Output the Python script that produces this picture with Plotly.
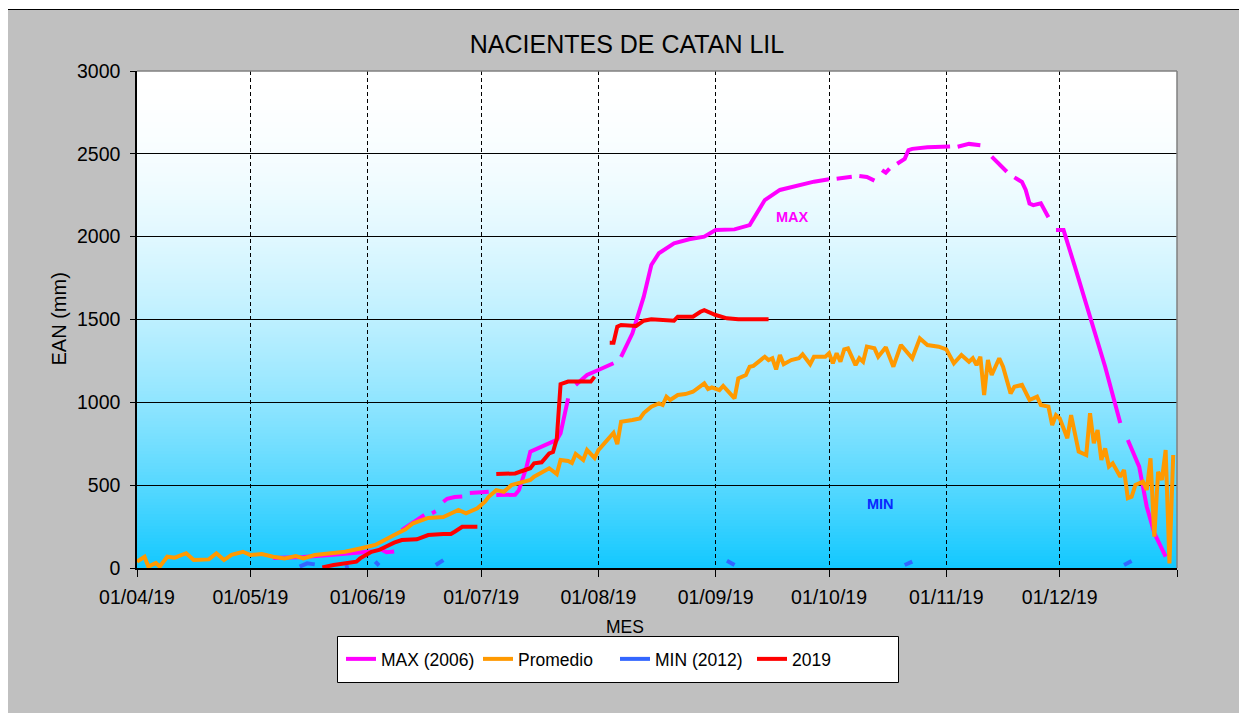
import plotly.graph_objects as go

# ---------------- data ----------------
months = ["2019-04-01", "2019-05-01", "2019-06-01", "2019-07-01", "2019-08-01",
          "2019-09-01", "2019-10-01", "2019-11-01", "2019-12-01", "2020-01-01"]
month_labels = ["01/04/19", "01/05/19", "01/06/19", "01/07/19", "01/08/19",
                "01/09/19", "01/10/19", "01/11/19", "01/12/19", ""]
y_ticks = [0, 500, 1000, 1500, 2000, 2500, 3000]

# MAX (2006) - gaps (None) where the record is missing
max_dates = ["2019-05-07", "2019-05-15", "2019-05-22", "2019-05-28", "2019-06-02", "2019-06-03",
             "2019-06-04", "2019-06-06", "2019-06-08", "2019-06-09",
             "2019-06-10", "2019-06-12", "2019-06-14", "2019-06-16", "2019-06-17",
             "2019-06-18", "2019-06-19", "2019-06-20",
             "2019-06-21", "2019-06-22", "2019-06-24", "2019-06-26", "2019-06-27",
             "2019-06-28", "2019-07-01", "2019-07-03", "2019-07-04",
             "2019-07-05", "2019-07-10", "2019-07-11", "2019-07-13", "2019-07-14", "2019-07-17",
             "2019-07-19", "2019-07-21", "2019-07-22", "2019-07-24", "2019-07-25",
             "2019-07-26", "2019-07-29", "2019-08-01", "2019-08-03", "2019-08-05", "2019-08-06",
             "2019-08-07", "2019-08-10", "2019-08-13", "2019-08-15", "2019-08-17", "2019-08-21",
             "2019-08-25", "2019-08-29", "2019-09-01", "2019-09-06", "2019-09-10", "2019-09-14",
             "2019-09-18", "2019-09-22", "2019-09-27", "2019-10-01", "2019-10-02",
             "2019-10-03", "2019-10-07", "2019-10-08",
             "2019-10-09", "2019-10-11", "2019-10-13", "2019-10-14",
             "2019-10-15", "2019-10-16", "2019-10-17", "2019-10-18",
             "2019-10-19", "2019-10-21", "2019-10-22", "2019-10-23", "2019-10-27", "2019-11-02",
             "2019-11-03",
             "2019-11-04", "2019-11-07", "2019-11-10", "2019-11-11",
             "2019-11-13", "2019-11-15", "2019-11-17", "2019-11-18",
             "2019-11-19", "2019-11-21", "2019-11-22", "2019-11-23", "2019-11-24", "2019-11-26",
             "2019-11-28", "2019-11-29",
             "2019-11-30", "2019-12-02", "2019-12-05", "2019-12-09", "2019-12-13", "2019-12-17",
             "2019-12-18",
             "2019-12-19", "2019-12-22", "2019-12-24", "2019-12-26", "2019-12-29"]
max_vals = [60, 66, 78, 88, 100, None,
            118, 95, 100, None,
            229, 260, 290, 320, None,
            330, 342, None,
            400, 418, 428, 432, None,
            452, 458, 460, None,
            440, 442, 470, 611, 702, 732,
            756, 773, 813, 1024, None,
            1105, 1165, 1195, 1215, 1236, None,
            1275, 1417, 1638, 1829, 1900, 1960,
            1984, 2000, 2040, 2044, 2070, 2221,
            2282, 2306, 2332, 2346, None,
            2350, 2362, None,
            2366, 2360, 2338, None,
            2402, 2386, 2410, None,
            2440, 2470, 2523, 2530, 2539, 2545,
            None,
            2543, 2560, 2552, None,
            2483, 2440, 2392, None,
            2358, 2330, 2282, 2200, 2190, 2201,
            2117, None,
            2040, 2040, 1819, 1517, 1215, 875,
            None,
            773, 612, 370, 211, 68]

# Promedio
prom_dates = ["2019-04-01", "2019-04-03", "2019-04-04", "2019-04-06", "2019-04-07", "2019-04-09",
              "2019-04-11", "2019-04-14", "2019-04-16", "2019-04-20", "2019-04-22", "2019-04-24",
              "2019-04-26", "2019-04-29", "2019-05-01", "2019-05-04", "2019-05-07", "2019-05-10",
              "2019-05-13", "2019-05-15", "2019-05-18", "2019-05-22", "2019-05-26", "2019-05-30",
              "2019-06-03", "2019-06-08", "2019-06-11", "2019-06-13", "2019-06-17", "2019-06-21",
              "2019-06-23", "2019-06-25", "2019-06-27", "2019-06-30", "2019-07-02", "2019-07-03",
              "2019-07-05", "2019-07-07", "2019-07-09", "2019-07-14", "2019-07-15", "2019-07-19",
              "2019-07-21", "2019-07-22", "2019-07-24", "2019-07-25", "2019-07-26", "2019-07-28",
              "2019-07-29", "2019-07-31", "2019-08-01", "2019-08-05", "2019-08-06", "2019-08-07",
              "2019-08-10", "2019-08-12", "2019-08-13", "2019-08-15", "2019-08-17", "2019-08-18",
              "2019-08-19", "2019-08-20", "2019-08-22", "2019-08-24", "2019-08-26", "2019-08-29",
              "2019-08-30", "2019-08-31", "2019-09-02", "2019-09-03", "2019-09-06", "2019-09-07",
              "2019-09-09", "2019-09-10", "2019-09-11", "2019-09-14", "2019-09-15", "2019-09-16",
              "2019-09-17", "2019-09-18", "2019-09-19", "2019-09-21", "2019-09-23", "2019-09-24",
              "2019-09-26", "2019-09-27", "2019-09-30", "2019-10-01", "2019-10-02", "2019-10-03",
              "2019-10-04", "2019-10-05", "2019-10-06", "2019-10-08", "2019-10-09", "2019-10-10",
              "2019-10-11", "2019-10-13", "2019-10-14", "2019-10-16", "2019-10-18", "2019-10-20",
              "2019-10-23", "2019-10-25", "2019-10-27", "2019-10-30", "2019-11-01", "2019-11-03",
              "2019-11-05", "2019-11-07", "2019-11-08", "2019-11-09", "2019-11-10", "2019-11-11",
              "2019-11-12", "2019-11-13", "2019-11-15", "2019-11-16", "2019-11-18", "2019-11-19",
              "2019-11-21", "2019-11-23", "2019-11-25", "2019-11-26", "2019-11-28", "2019-11-29",
              "2019-11-30", "2019-12-01", "2019-12-03", "2019-12-04", "2019-12-06", "2019-12-08",
              "2019-12-09", "2019-12-10", "2019-12-11", "2019-12-12", "2019-12-13", "2019-12-14",
              "2019-12-15", "2019-12-17", "2019-12-18", "2019-12-19", "2019-12-20", "2019-12-21",
              "2019-12-23", "2019-12-24", "2019-12-25", "2019-12-26", "2019-12-27", "2019-12-28",
              "2019-12-29", "2019-12-30", "2019-12-31"]
prom_vals = [38, 68, 8, 30, 8, 68,
             62, 89, 48, 52, 89, 48,
             80, 98, 78, 84, 68, 58,
             72, 58, 78, 88, 98, 118,
             139, 199, 233, 270, 302, 308,
             330, 350, 330, 360, 400, 430,
             470, 460, 500, 531, 551, 602,
             567, 652, 646, 634, 688, 652,
             712, 664, 712, 815, 748, 883,
             893, 903, 935, 974, 994, 984,
             1034, 1014, 1044, 1050, 1064, 1115,
             1080, 1090, 1074, 1099, 1024, 1145,
             1165, 1215, 1220, 1275, 1255, 1266,
             1199, 1286, 1230, 1255, 1266, 1290,
             1230, 1275, 1275, 1296, 1236, 1296,
             1245, 1320, 1326, 1225, 1266, 1245,
             1336, 1326, 1275, 1332, 1215, 1346,
             1266, 1386, 1346, 1336, 1320, 1236,
             1286, 1245, 1266, 1225, 1275, 1044,
             1255, 1165, 1266, 1215, 1054, 1094,
             1105, 1014, 1034, 984, 974, 863,
             923, 903, 783, 923, 702, 682,
             934, 753, 833, 652, 722, 612,
             632, 551, 591, 421, 430, 501,
             521, 471, 662, 189, 581, 531,
             712, 28, 682]

# MIN (2012) - only the short non-zero stretches
min_dates = ["2019-05-14", "2019-05-16", "2019-05-18", "2019-05-21",
             "2019-05-26", "2019-05-27", "2019-05-30",
             "2019-06-03", "2019-06-04", "2019-06-10",
             "2019-06-19", "2019-06-21", "2019-07-15",
             "2019-09-04", "2019-09-06", "2019-10-01",
             "2019-10-21", "2019-10-23", "2019-11-20",
             "2019-12-18", "2019-12-20"]
min_vals = [8, 28, 22, None,
            4, 10, None,
            38, 15, None,
            18, 48, None,
            44, 18, None,
            18, 38, None,
            18, 42]

# 2019
y2019_dates = ["2019-05-20", "2019-05-23", "2019-05-29", "2019-05-30", "2019-06-02", "2019-06-04",
               "2019-06-08", "2019-06-10", "2019-06-14", "2019-06-17", "2019-06-21", "2019-06-23",
               "2019-06-24", "2019-06-26", "2019-06-30", "2019-07-02",
               "2019-07-05", "2019-07-10", "2019-07-12", "2019-07-14", "2019-07-15", "2019-07-17",
               "2019-07-19", "2019-07-20", "2019-07-21", "2019-07-22", "2019-07-24", "2019-07-30",
               "2019-07-31", "2019-08-02",
               "2019-08-04", "2019-08-05", "2019-08-06", "2019-08-07", "2019-08-11", "2019-08-13",
               "2019-08-15", "2019-08-18", "2019-08-21", "2019-08-22", "2019-08-26", "2019-08-28",
               "2019-08-29", "2019-09-01", "2019-09-04", "2019-09-07", "2019-09-15"]
y2019_vals = [4, 18, 38, 58, 98, 109,
              153, 169, 173, 199, 205, 205,
              219, 249, 249, None,
              567, 571, 587, 602, 632, 638,
              692, 700, 780, 1110, 1125, 1125,
              1155, None,
              1360, 1360, 1457, 1467, 1461, 1493,
              1501, 1497, 1493, 1517, 1517, 1547,
              1557, 1527, 1507, 1501, 1501]

# ---------------- layout geometry (screen px of the plot area) ----------------
OFF = 8            # page body margin
W, H = 1247, 713
PL, PR, PT, PB = 137, 1177, 71, 568
FONT = "Arial, Liberation Sans, sans-serif"


def px_x(sx):
    return (sx - PL) / (PR - PL)


def px_y(sy):
    return (PB - sy) / (PB - PT)


fig = go.Figure()
fig.add_trace(go.Scatter(x=max_dates, y=max_vals, mode="lines", name="MAX (2006)",
                         line=dict(color="#FF00FF", width=4), connectgaps=False))
fig.add_trace(go.Scatter(x=prom_dates, y=prom_vals, mode="lines", name="Promedio",
                         line=dict(color="#FF9900", width=4)))
fig.add_trace(go.Scatter(x=min_dates, y=min_vals, mode="lines", name="MIN (2012)",
                         line=dict(color="#3366FF", width=4), connectgaps=False))
fig.add_trace(go.Scatter(x=y2019_dates, y=y2019_vals, mode="lines", name="2019",
                         line=dict(color="#FF0000", width=4), connectgaps=False))

shapes = []
# gray chart frame
shapes.append(dict(type="rect", xref="paper", yref="paper", layer="below",
                   x0=px_x(7.5), x1=1.3, y0=-0.6, y1=px_y(9.5),
                   fillcolor="#C0C0C0", line=dict(color="black", width=1)))
# gradient background of plot area
NB = 166
top = (255, 255, 255)
bot = (18, 200, 255)
for k in range(NB):
    t = 1 - (k + 0.5) / NB
    f = t ** 1.85
    c = tuple(round(top[i] * (1 - f) + bot[i] * f) for i in range(3))
    shapes.append(dict(type="rect", xref="x domain", yref="y domain", layer="below",
                       x0=0, x1=1, y0=k / NB, y1=min(1.0, (k + 1.8) / NB),
                       fillcolor="rgb(%d,%d,%d)" % c, line=dict(width=0)))
# top / right border of the plot area
shapes.append(dict(type="line", xref="x domain", yref="y domain", x0=0, x1=1, y0=1, y1=1,
                   line=dict(color="#808080", width=1.5)))
shapes.append(dict(type="line", xref="x domain", yref="y domain", x0=1, x1=1, y0=0, y1=1,
                   line=dict(color="#808080", width=1.5)))
# legend box
shapes.append(dict(type="rect", xref="paper", yref="paper", layer="above",
                   x0=px_x(337.5), x1=px_x(898.5), y0=px_y(682.5), y1=px_y(636.5),
                   fillcolor="white", line=dict(color="black", width=1)))

annotations = [
    dict(text="<b>MAX</b>", x=px_x(792), y=px_y(217), xref="paper", yref="paper",
         xanchor="center", yanchor="middle",
         showarrow=False, font=dict(family=FONT, size=14.5, color="#FF00FF")),
    dict(text="<b>MIN</b>", x=px_x(880), y=px_y(504), xref="paper", yref="paper",
         xanchor="center", yanchor="middle",
         showarrow=False, font=dict(family=FONT, size=14.5, color="#0A28FF")),
    dict(text="EAN (mm)", x=px_x(58), y=0.5, xref="paper", yref="paper", textangle=-90,
         xanchor="center", yanchor="middle",
         showarrow=False, font=dict(family=FONT, size=20, color="black")),
    dict(text="MES", x=px_x(625), y=px_y(627), xref="paper", yref="paper",
         xanchor="center", yanchor="middle",
         showarrow=False, font=dict(family=FONT, size=17.5, color="black")),
]

fig.update_layout(
    width=W, height=H,
    margin=dict(l=PL - OFF, r=W - (PR - OFF), t=PT - OFF, b=H - (PB - OFF), autoexpand=False),
    paper_bgcolor="white",
    plot_bgcolor="rgba(0,0,0,0)",
    font=dict(family=FONT, size=19.5, color="black"),
    title=dict(text="NACIENTES DE CATAN LIL", x=(627 - OFF) / W, xref="container", xanchor="center",
               y=1 - (44 - OFF) / H, yref="container", yanchor="middle",
               font=dict(family=FONT, size=25, color="black")),
    shapes=shapes,
    annotations=annotations,
    showlegend=True,
    legend=dict(orientation="h", x=px_x(341), xanchor="left", y=px_y(659), yanchor="middle",
                bgcolor="rgba(0,0,0,0)", borderwidth=0, entrywidth=92, entrywidthmode="pixels",
                font=dict(family=FONT, size=17.5, color="black"), traceorder="normal"),
)
fig.update_xaxes(type="date", range=[months[0], months[-1]], tickvals=months, ticktext=month_labels,
                 showgrid=True, gridcolor="black", gridwidth=1, griddash="4px,3px",
                 showline=True, linecolor="black", linewidth=1.5,
                 ticks="outside", ticklen=7, tickcolor="black", ticklabelstandoff=4,
                 zeroline=False, fixedrange=True)
fig.update_yaxes(range=[0, 3000], tickvals=y_ticks, showgrid=True, gridcolor="black", gridwidth=1,
                 showline=True, linecolor="black", linewidth=1.5,
                 ticks="outside", ticklen=5, tickcolor="black", ticklabelstandoff=6,
                 zeroline=False, fixedrange=True)

fig.write_html("out.html")
